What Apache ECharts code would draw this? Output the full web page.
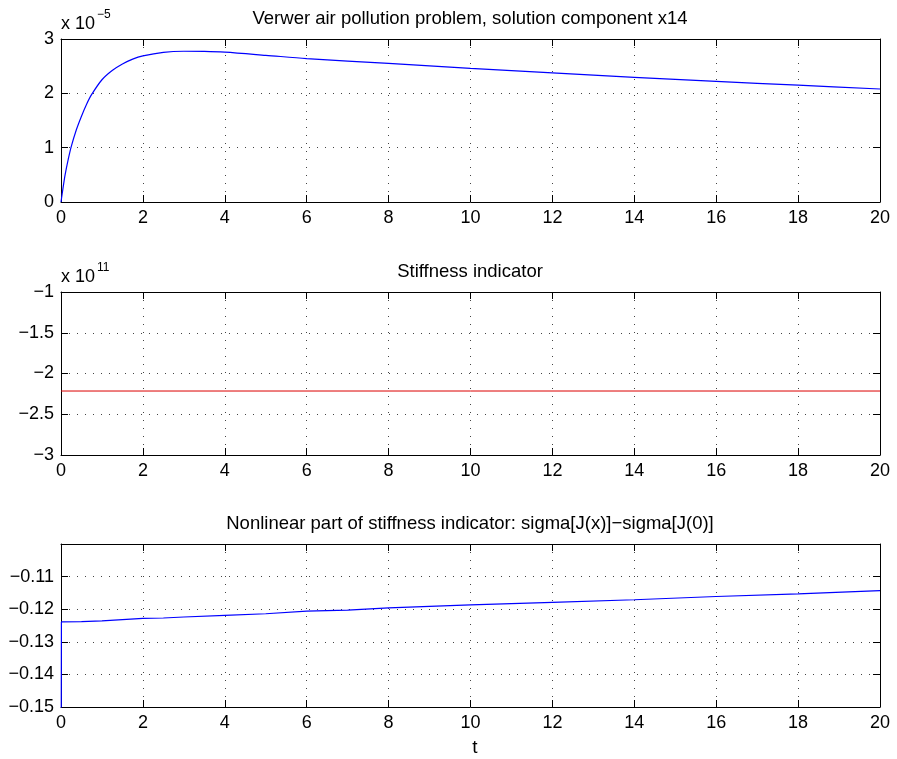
<!DOCTYPE html>
<html>
<head>
<meta charset="utf-8">
<script src="https://cdn.jsdelivr.net/npm/echarts@6/dist/echarts.min.js"></script>
<style>
  html, body { margin: 0; padding: 0; background: #fff; }
  #chart { width: 897px; height: 759px; }
</style>
</head>
<body>
<div id="chart"></div>
<script>
// panel 1: solution component x14 (units of 1e-5)
var tX14 = [0, 0.05, 0.1, 0.175, 0.25, 0.375, 0.5, 0.625, 0.75, 1, 1.25, 1.5, 1.75, 2, 2.5, 3, 3.5, 4, 5, 6, 8, 10, 12, 14, 16, 18, 20];
var x14 = [0, 0.26, 0.5, 0.78, 1.02, 1.33, 1.58, 1.8, 1.98, 2.25, 2.42, 2.54, 2.63, 2.69, 2.755, 2.775, 2.772, 2.757, 2.70, 2.64, 2.55, 2.46, 2.375, 2.295, 2.22, 2.15, 2.08];

// panel 2: stiffness indicator (units of 1e11)
var tStiff = [0, 20];
var stiff = [-2.215, -2.215];

// panel 3: nonlinear part sigma[J(x)] - sigma[J(0)]
var tNonlin = [0, 0.01, 0.5, 1, 1.5, 2, 2.5, 3, 4, 5, 6, 7, 8, 10, 12, 14, 16, 18, 20];
var nonlin = [-0.2, -0.1239, -0.1238, -0.1236, -0.1232, -0.1228, -0.1227, -0.1224, -0.1219, -0.1214, -0.1206, -0.1203, -0.1196, -0.1187, -0.1179, -0.1171, -0.1161, -0.1153, -0.1143];

var titles = [
  'Verwer air pollution problem, solution component x14',
  'Stiffness indicator',
  'Nonlinear part of stiffness indicator: sigma[J(x)]\u2212sigma[J(0)]'
];

var FONT = 'Liberation Sans, Arial, Helvetica, sans-serif';
var gridTops = [39, 292, 544];
var yRanges = [
  { min: 0, max: 3, interval: 1 },
  { min: -3, max: -1, interval: 0.5 },
  { min: -0.15, max: -0.10, interval: 0.01 }
];

function fmt(v) {
  var s = String(Math.round(v * 1000) / 1000);
  return s.replace('-', '\u2212');
}

var grids = [], xAxes = [], yAxes = [], titleList = [];
gridTops.forEach(function (top, i) {
  grids.push({ left: 61, top: top, width: 819, height: 163 });
  titleList.push({
    text: titles[i], left: 465, top: top - 35, textAlign: 'center',
    textStyle: { fontFamily: FONT, fontSize: 18.5, fontWeight: 'normal', color: '#000' }
  });
  var common = {
    gridIndex: i, type: 'value',
    axisLine: { show: true, onZero: false, lineStyle: { color: '#000', width: 1 } },
    axisTick: { show: true, inside: true, length: 7, lineStyle: { color: '#000' } }
  };
  xAxes.push(Object.assign({}, common, {
    position: 'bottom', min: 0, max: 20, interval: 2,
    axisLabel: { fontFamily: FONT, fontSize: 18, color: '#000', margin: 7 },
    splitLine: { show: true, lineStyle: { type: [1, 7], color: '#444', width: 1 } }
  }));
  xAxes.push(Object.assign({}, common, {
    position: 'top', min: 0, max: 20, interval: 2,
    axisLabel: { show: false }, splitLine: { show: false }
  }));
  var yr = yRanges[i];
  yAxes.push(Object.assign({}, common, {
    position: 'left', min: yr.min, max: yr.max, interval: yr.interval,
    axisLabel: {
      fontFamily: FONT, fontSize: 18, color: '#000', margin: 7,
      formatter: function (v) {
        if (i === 2 && Math.abs(v + 0.1) < 1e-9) return '';
        return fmt(v);
      }
    },
    splitLine: { show: true, lineStyle: { type: [1, 7], color: '#444', width: 1 } }
  }));
  yAxes.push(Object.assign({}, common, {
    position: 'right', min: yr.min, max: yr.max, interval: yr.interval,
    axisLabel: { show: false }, splitLine: { show: false }
  }));
});

titleList.push({
  text: 't', left: 470, top: 733, textAlign: 'center',
  textStyle: { fontFamily: FONT, fontSize: 19, fontWeight: 'normal', color: '#000' }
});

function pairs(xs, ys) {
  return xs.map(function (x, k) { return [x, ys[k]]; });
}

var chart = echarts.init(document.getElementById('chart'), null, { renderer: 'canvas' });
chart.setOption({
  backgroundColor: '#fff',
  animation: false,
  title: titleList,
  grid: grids,
  xAxis: xAxes,
  yAxis: yAxes,
  graphic: [
    { type: 'text', left: 61, top: 15, style: { text: 'x 10', font: '18px ' + FONT, fill: '#000' } },
    { type: 'text', left: 97, top: 9, style: { text: '\u22125', font: '12px ' + FONT, fill: '#000' } },
    { type: 'text', left: 61, top: 268, style: { text: 'x 10', font: '18px ' + FONT, fill: '#000' } },
    { type: 'text', left: 97, top: 262, style: { text: '11', font: '12px ' + FONT, fill: '#000' } }
  ],
  series: [
    {
      type: 'line', xAxisIndex: 0, yAxisIndex: 0, data: pairs(tX14, x14),
      smooth: 0.3, showSymbol: false, lineStyle: { color: '#0000ff', width: 1.2 }
    },
    {
      type: 'line', xAxisIndex: 2, yAxisIndex: 2, data: pairs(tStiff, stiff),
      showSymbol: false, lineStyle: { color: '#dd0000', width: 1 }
    },
    {
      type: 'line', xAxisIndex: 4, yAxisIndex: 4, data: pairs(tNonlin, nonlin),
      showSymbol: false, clip: true, lineStyle: { color: '#0000ff', width: 1.2 }
    }
  ]
});
</script>
</body>
</html>
